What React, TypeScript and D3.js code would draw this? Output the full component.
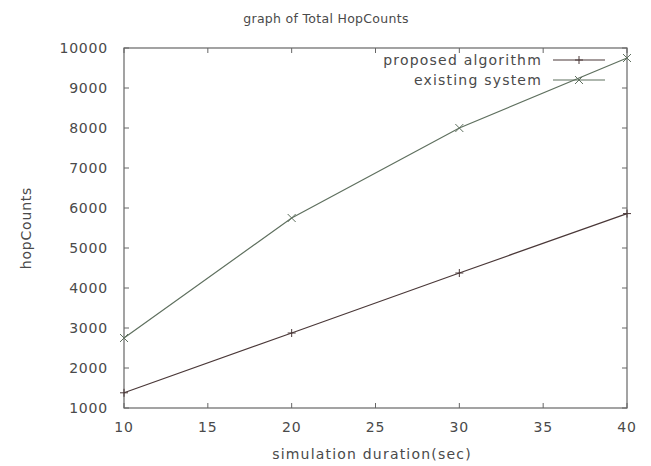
import React from "react";
import * as d3 from "d3";

const durations = [10, 20, 30, 40];
const proposed = [1380, 2875, 4375, 5860];
const existing = [2750, 5750, 8000, 9750];
const xTicks = [10, 15, 20, 25, 30, 35, 40];
const yTicks = [1000, 2000, 3000, 4000, 5000, 6000, 7000, 8000, 9000, 10000];
const seriesNames = ["proposed algorithm", "existing system"];

const W = 651, H = 466;
const L = 124, R = 627, T = 48, B = 408;

export default function App() {
  const x = d3.scaleLinear().domain([10, 40]).range([L, R]);
  const y = d3.scaleLinear().domain([1000, 10000]).range([B, T]);
  const line = d3.line<[number, number]>().x(d => x(d[0])).y(d => y(d[1]));
  const frame = "#666";
  const text = "#4a4a4a";
  const font = "'DejaVu Sans', sans-serif";
  const series = [
    { name: seriesNames[0], vals: proposed, color: "#4a3838", mark: "plus" },
    { name: seriesNames[1], vals: existing, color: "#5f705f", mark: "cross" },
  ];
  const marker = (mark: string, cx: number, cy: number, color: string, key: string) => {
    const s = 4;
    if (mark === "plus") {
      return (
        <g key={key} stroke={color} strokeWidth={1}>
          <line x1={cx - s} x2={cx + s} y1={cy} y2={cy} />
          <line x1={cx} x2={cx} y1={cy - s} y2={cy + s} />
        </g>
      );
    }
    return (
      <g key={key} stroke={color} strokeWidth={1}>
        <line x1={cx - s} x2={cx + s} y1={cy - s} y2={cy + s} />
        <line x1={cx - s} x2={cx + s} y1={cy + s} y2={cy - s} />
      </g>
    );
  };
  return (
    <svg width={W} height={H} style={{ position: "absolute", left: 0, top: 0, background: "#fff" }}>
      <text x={326} y={23} textAnchor="middle" fontFamily={font} fontSize={12.5} letterSpacing={0.3} fill={text}>
        graph of Total HopCounts
      </text>
      {xTicks.map(t => (
        <g key={"x" + t}>
          <line x1={x(t)} x2={x(t)} y1={B} y2={B - 5} stroke={frame} />
          <line x1={x(t)} x2={x(t)} y1={T} y2={T + 5} stroke={frame} />
          <text x={x(t)} y={B + 24} textAnchor="middle" fontFamily={font} fontSize={14} letterSpacing={0.8} fill={text}>
            {t}
          </text>
        </g>
      ))}
      {yTicks.map(t => (
        <g key={"y" + t}>
          <line x1={L} x2={L + 5} y1={y(t)} y2={y(t)} stroke={frame} />
          <line x1={R} x2={R - 5} y1={y(t)} y2={y(t)} stroke={frame} />
          <text x={L - 16} y={y(t) + 5} textAnchor="end" fontFamily={font} fontSize={14} letterSpacing={0.8} fill={text}>
            {t}
          </text>
        </g>
      ))}
      <rect x={L} y={T} width={R - L} height={B - T} fill="none" stroke={frame} strokeWidth={1.2} />
      {series.map((s, i) => (
        <g key={s.name}>
          <path
            d={line(durations.map((d, j) => [d, s.vals[j]] as [number, number])) || ""}
            fill="none"
            stroke={s.color}
            strokeWidth={1.2}
          />
          {durations.map((d, j) => marker(s.mark, x(d), y(s.vals[j]), s.color, s.name + j))}
          <text x={542} y={65 + i * 20} textAnchor="end" fontFamily={font} fontSize={14} letterSpacing={1.2} fill={text}>
            {s.name}
          </text>
          <line x1={553} x2={605} y1={60 + i * 20} y2={60 + i * 20} stroke={s.color} strokeWidth={1.2} />
          {marker(s.mark, 579, 60 + i * 20, s.color, s.name + "leg")}
        </g>
      ))}
      <text
        transform={`translate(31, ${(T + B) / 2}) rotate(-90)`}
        textAnchor="middle"
        fontFamily={font}
        fontSize={14}
        letterSpacing={0.8}
        fill={text}
      >
        hopCounts
      </text>
      <text x={372} y={459} textAnchor="middle" fontFamily={font} fontSize={14} letterSpacing={1.2} fill={text}>
        simulation duration(sec)
      </text>
    </svg>
  );
}
